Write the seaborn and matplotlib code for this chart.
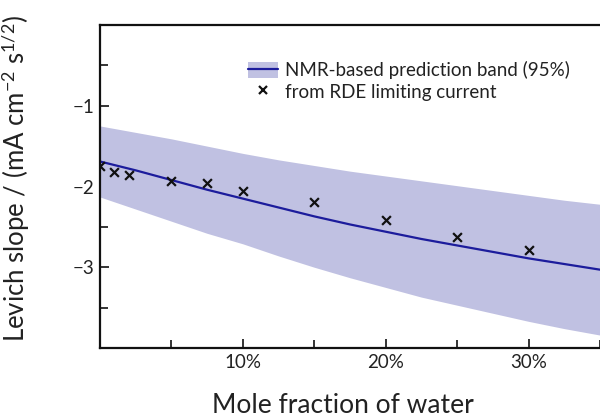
import numpy as np
import pandas as pd
import matplotlib
matplotlib.use("Agg")
import matplotlib.pyplot as plt
import seaborn as sns
from matplotlib.patches import Patch
from matplotlib.lines import Line2D
from matplotlib.ticker import PercentFormatter, MultipleLocator

# --- data (mole fraction of water in %, Levich slope) ---
band_x = [0, 2.5, 5, 7.5, 10, 12.5, 15, 17.5, 20, 22.5, 25, 27.5, 30, 32.5, 35]
band_mid = [-1.69, -1.80, -1.92, -2.04, -2.15, -2.26, -2.37, -2.47, -2.56, -2.65, -2.73, -2.81, -2.89, -2.96, -3.03]
band_upper = [-1.25, -1.33, -1.41, -1.50, -1.59, -1.67, -1.74, -1.81, -1.87, -1.93, -1.99, -2.05, -2.11, -2.17, -2.22]
band_lower = [-2.13, -2.28, -2.43, -2.58, -2.71, -2.86, -3.00, -3.13, -3.25, -3.37, -3.47, -3.57, -3.67, -3.76, -3.84]

rde_x = [0, 1, 2, 5, 7.5, 10, 15, 20, 25, 30]
rde_y = [-1.75, -1.82, -1.86, -1.93, -1.96, -2.06, -2.19, -2.42, -2.63, -2.79]

band_label = "NMR-based prediction band (95%)"
rde_label = "from RDE limiting current"
xlabel = "Mole fraction of water"
ylabel = "Levich slope / (mA cm$^{\\mathregular{-2}}$ s$^{\\mathregular{1/2}}$)"

band_color = "#c0c1e2"
line_color = "#1c1c9c"

sns.set_style("ticks")
plt.rcParams["font.family"] = ["Lato", "DejaVu Sans"]
plt.rcParams["mathtext.fontset"] = "custom"
plt.rcParams["mathtext.rm"] = "Lato"
plt.rcParams["mathtext.it"] = "Lato:italic"
plt.rcParams["mathtext.bf"] = "Lato:bold"

band_df = pd.DataFrame({"x": band_x, "mid": band_mid, "lo": band_lower, "hi": band_upper})
rde_df = pd.DataFrame({"x": rde_x, "y": rde_y})

fig = plt.figure(figsize=(6.0, 4.19), dpi=100)
ax = fig.add_axes([100/600, (419-348)/419, 500/600, (348-25)/419])

ax.fill_between(band_df["x"], band_df["lo"], band_df["hi"], color=band_color, lw=0, zorder=1)
sns.lineplot(data=band_df, x="x", y="mid", ax=ax, color=line_color, lw=1.6, zorder=2)
sns.scatterplot(data=rde_df, x="x", y="y", ax=ax, marker="x", color="#111111",
                s=40, linewidth=1.6, zorder=3)

ax.set_xlim(0, 35)
ax.set_ylim(-4, 0)
ax.xaxis.set_major_locator(MultipleLocator(10))
ax.xaxis.set_minor_locator(MultipleLocator(5))
ax.yaxis.set_major_locator(MultipleLocator(1))
ax.yaxis.set_minor_locator(MultipleLocator(0.5))
ax.xaxis.set_major_formatter(PercentFormatter(decimals=0))
ax.set_xticks([10, 20, 30])
ax.set_yticks([-1, -2, -3])

for s in ["left", "bottom", "top"]:
    ax.spines[s].set_linewidth(1.6)
    ax.spines[s].set_color("#111111")
ax.spines["right"].set_visible(False)

ax.tick_params(which="major", direction="in", length=6.5, width=1.2, labelsize=13.5,
               pad=4, colors="#111111", labelcolor="#222222")
ax.tick_params(which="minor", direction="in", length=5.5, width=1.2, colors="#111111")
ax.tick_params(axis="y", which="both", right=False)
ax.tick_params(axis="x", which="both", top=False)

ax.set_xlabel(xlabel, fontsize=19, color="#222222")
ax.set_ylabel(ylabel, fontsize=18.5, color="#222222")
ax.xaxis.set_label_coords(0.485, -0.14)
ax.yaxis.set_label_coords(-0.135, 0.525)

handles = [(Patch(facecolor=band_color, edgecolor="none"),
            Line2D([], [], color=line_color, lw=1.6)),
           Line2D([], [], ls="none", marker="x", color="#111111", markersize=5.5, mew=1.6)]
ax.legend(handles, [band_label, rde_label], loc="upper left",
          bbox_to_anchor=(0.262, 0.94), frameon=False, fontsize=13.5,
          handlelength=1.6, handleheight=1.0, handletextpad=0.4, labelspacing=0.2,
          labelcolor="#222222")

fig.savefig("out.png", dpi=100)
